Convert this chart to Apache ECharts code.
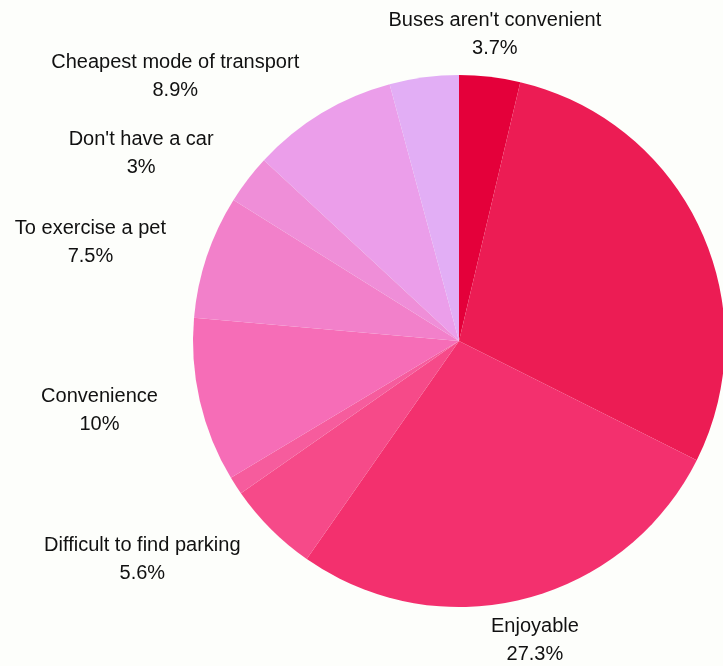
<!DOCTYPE html>
<html>
<head>
<meta charset="utf-8">
<script src="https://cdn.jsdelivr.net/npm/echarts@6/dist/echarts.min.js"></script>
<style>
  html, body { margin: 0; padding: 0; background: #fdfefb; }
  #chart { width: 723px; height: 666px; }
</style>
</head>
<body>
<div id="chart"></div>
<script>
const categories = [
  "Buses aren't convenient",
  "Healthier",
  "Enjoyable",
  "Difficult to find parking",
  "Environment",
  "Convenience",
  "To exercise a pet",
  "Don't have a car",
  "Cheapest mode of transport",
  "Other"
];
const values = [3.7, 28.7, 27.3, 5.6, 1.1, 10, 7.5, 3, 8.9, 4.2];
const showLabel = [true, false, true, true, false, true, true, true, true, false];
const colors = ['#e4003a', '#ec1c54', '#f3306e', '#f64a89', '#f65c9d', '#f66db7', '#f280ca', '#ef8ed8', '#eb9eea', '#e2aef5'];

const CX = 459, CY = 341;

const data = categories.map((name, i) => ({
  name: name,
  value: values[i],
  itemStyle: { color: colors[i] },
  label: { show: showLabel[i] },
  labelLine: { show: false }
}));

const chart = echarts.init(document.getElementById('chart'));
chart.setOption({
  backgroundColor: '#fdfefb',
  animation: false,
  series: [{
    type: 'pie',
    center: [CX, CY],
    radius: 266,
    startAngle: 90,
    clockwise: true,
    avoidLabelOverlap: false,
    data: data,
    label: {
      show: true,
      position: 'outside',
      fontFamily: 'Liberation Sans, Arial, sans-serif',
      fontSize: 20,
      lineHeight: 28,
      color: '#111',
      distanceToLabelLine: 0,
      formatter: function (p) { return p.name + '\n' + p.value + '%'; }
    },
    labelLine: { show: false, length: 43, length2: 0 },
    itemStyle: { borderWidth: 0 },
    emphasis: { disabled: true },
    labelLayout: function (params) {
      if (params.dataIndex === 2 || params.dataIndex === 0) return { align: 'center' };
      const r = params.labelRect;
      if (r.x + r.width / 2 < CX) return { align: 'center', dx: -r.width / 2 };
      return { align: 'center', dx: r.width / 2 };
    }
  }]
});
</script>
</body>
</html>
